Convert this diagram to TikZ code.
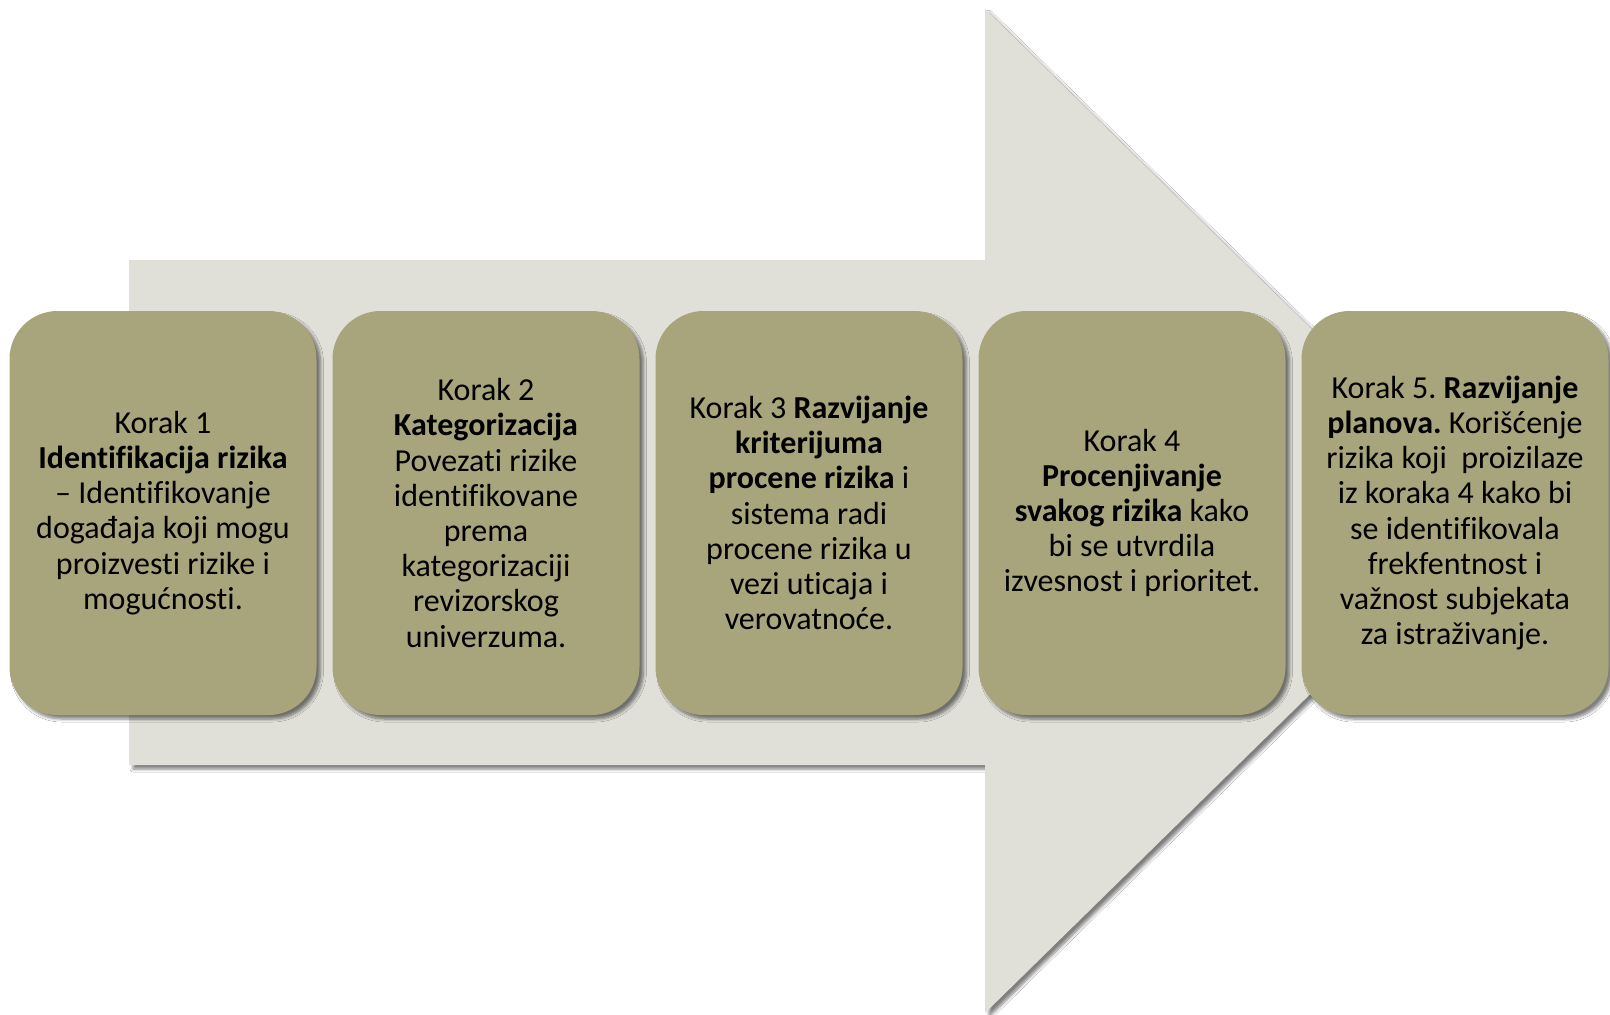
\documentclass[tikz,border=0pt]{standalone}
\usepackage{fontspec}
\setmainfont{Carlito}[Ligatures={NoCommon}]
\usetikzlibrary{shadows.blur}
\definecolor{boxfill}{RGB}{168,165,124}
\definecolor{arrowfill}{RGB}{224,224,216}
\frenchspacing
\begin{document}
\begin{tikzpicture}[x=1pt,y=-1pt,
  stepbox/.style={rectangle, rounded corners=48pt, fill=boxfill,
    minimum width=307pt, minimum height=404pt, align=center,
    font=\fontsize{32}{35.2}\selectfont, text=black,
    blur shadow={shadow xshift=4pt, shadow yshift=-4pt, shadow blur steps=6, shadow opacity=50, shadow blur radius=3pt}},
  bigarrow/.style={fill=arrowfill,
    blur shadow={shadow xshift=4pt, shadow yshift=-4pt, shadow blur steps=6, shadow opacity=50, shadow blur radius=3pt}}]
\useasboundingbox (0,0) rectangle (1610,1015);
\fill[white] (0,0) rectangle (1610,1015);
\path[bigarrow] (129,260) -- (985,260) -- (985,9) -- (1497,511) -- (985,1013) -- (985,765) -- (129,765) -- cycle;
\node[stepbox] (k1) at (163,513) {Korak 1\\ \textbf{Identifikacija rizika}\\ – Identifikovanje\\ događaja koji mogu\\ proizvesti rizike i\\ mogućnosti.};
\node[stepbox] (k2) at (486,513) {Korak 2\\ \textbf{Kategorizacija}\\ Povezati rizike\\ identifikovane\\ prema\\ kategorizaciji\\ revizorskog\\ univerzuma.};
\node[stepbox] (k3) at (809,513) {Korak 3 \textbf{Razvijanje}\\ \textbf{kriterijuma}\\ \textbf{procene rizika} i\\ sistema radi\\ procene rizika u\\ vezi uticaja i\\ verovatnoće.};
\node[stepbox] (k4) at (1132,513) {Korak 4\\ \textbf{Procenjivanje}\\ \textbf{svakog rizika} kako\\ bi se utvrdila\\ izvesnost i prioritet.};
\node[stepbox] (k5) at (1455,513) {Korak 5. \textbf{Razvijanje}\\ \textbf{planova.} Korišćenje\\ rizika koji\ \ proizilaze\\ iz koraka 4 kako bi\\ se identifikovala\\ frekfentnost i\\ važnost subjekata\\ za istraživanje.};
\end{tikzpicture}
\end{document}
